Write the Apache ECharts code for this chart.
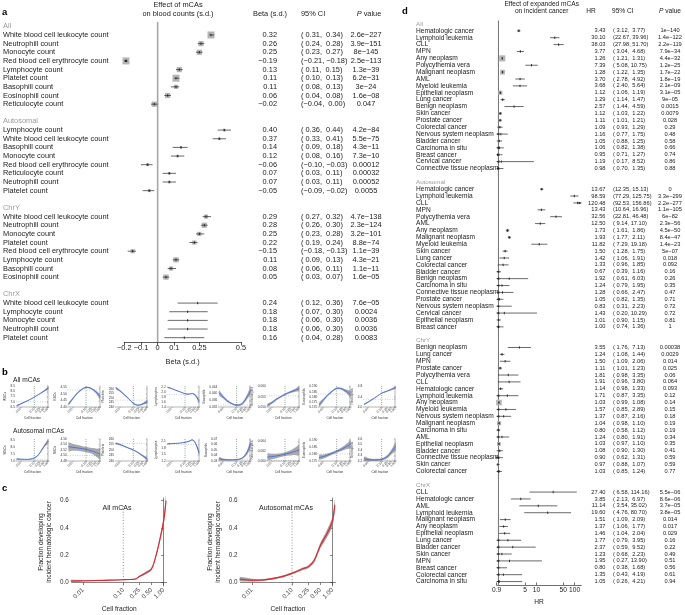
<!DOCTYPE html>
<html><head><meta charset="utf-8">
<script src="https://cdn.jsdelivr.net/npm/echarts@6/dist/echarts.min.js"></script>
<style>html,body{margin:0;padding:0;background:#fff}#c{width:685px;height:615px}</style>
</head><body><div id="c"></div><script>
const FONT = '"Liberation Sans", Arial, Helvetica, sans-serif';
const INK = '#222';

// ---------------- Panel a: effect of mCAs on blood counts ----------------
const aAll = [
 ['White blood cell leukocyte count', 0.32, 0.31, 0.34, '2.6e−227'],
 ['Neutrophill count', 0.26, 0.24, 0.28, '3.9e−151'],
 ['Monocyte count', 0.25, 0.23, 0.27, '8e−145'],
 ['Red blood cell erythrocyte count', -0.19, -0.21, -0.18, '2.5e−113'],
 ['Lymphocyte count', 0.13, 0.11, 0.15, '1.3e−39'],
 ['Platelet count', 0.11, 0.10, 0.13, '6.2e−31'],
 ['Basophill count', 0.11, 0.08, 0.13, '3e−24'],
 ['Eosinophill count', 0.06, 0.04, 0.08, '1.6e−08'],
 ['Reticulocyte count', -0.02, -0.04, 0.00, '0.047']
];
const aAutosomal = [
 ['Lymphocyte count', 0.40, 0.36, 0.44, '4.2e−84'],
 ['White blood cell leukocyte count', 0.37, 0.33, 0.41, '5.5e−75'],
 ['Basophill count', 0.14, 0.09, 0.18, '4.3e−11'],
 ['Monocyte count', 0.12, 0.08, 0.16, '7.3e−10'],
 ['Red blood cell erythrocyte count', -0.06, -0.10, -0.03, '0.00012'],
 ['Reticulocyte count', 0.07, 0.03, 0.11, '0.00032'],
 ['Neutrophill count', 0.07, 0.03, 0.11, '0.00052'],
 ['Platelet count', -0.05, -0.09, -0.02, '0.0055']
];
const aChrY = [
 ['White blood cell leukocyte count', 0.29, 0.27, 0.32, '4.7e−138'],
 ['Neutrophill count', 0.28, 0.26, 0.30, '2.3e−124'],
 ['Monocyte count', 0.25, 0.23, 0.28, '3.2e−101'],
 ['Platelet count', 0.22, 0.19, 0.24, '8.8e−74'],
 ['Red blood cell erythrocyte count', -0.15, -0.18, -0.13, '1.1e−39'],
 ['Lymphocyte count', 0.11, 0.09, 0.13, '4.3e−21'],
 ['Basophill count', 0.08, 0.06, 0.11, '1.1e−11'],
 ['Eosinophill count', 0.05, 0.03, 0.07, '1.6e−05']
];
const aChrX = [
 ['White blood cell leukocyte count', 0.24, 0.12, 0.36, '7.6e−05'],
 ['Lymphocyte count', 0.18, 0.07, 0.30, '0.0024'],
 ['Monocyte count', 0.18, 0.06, 0.30, '0.0036'],
 ['Neutrophill count', 0.18, 0.06, 0.30, '0.0036'],
 ['Platelet count', 0.16, 0.04, 0.28, '0.0083']
];
const aTicks = [-0.2, -0.1, 0, 0.1, 0.25, 0.5];

// ---------------- Panel d: expanded mCAs and incident cancer ----------------
const dAll = [
 ['Hematologic cancer', 3.43, 3.12, 3.77, '1e−140'],
 ['Lymphoid leukemia', 30.10, 22.67, 39.96, '1.4e−122'],
 ['CLL', 38.03, 27.98, 51.70, '2.2e−119'],
 ['MPN', 3.77, 3.04, 4.68, '7.9e−34'],
 ['Any neoplasm', 1.26, 1.21, 1.31, '4.4e−32'],
 ['Polycythemia vera', 7.39, 5.08, 10.75, '1.2e−25'],
 ['Malignant neoplasm', 1.28, 1.22, 1.35, '1.7e−22'],
 ['AML', 3.70, 2.78, 4.92, '1.8e−19'],
 ['Myeloid leukemia', 3.68, 2.40, 5.64, '2.1e−09'],
 ['Epithelial neoplasm', 1.12, 1.06, 1.19, '3.1e−05'],
 ['Lung cancer', 1.29, 1.14, 1.47, '9e−05'],
 ['Benign neoplasm', 2.57, 1.44, 4.59, '0.0015'],
 ['Skin cancer', 1.12, 1.03, 1.22, '0.0079'],
 ['Prostate cancer', 1.11, 1.01, 1.21, '0.028'],
 ['Colorectal cancer', 1.09, 0.93, 1.29, '0.29'],
 ['Nervous system neoplasm', 1.16, 0.77, 1.75, '0.48'],
 ['Bladder cancer', 1.05, 0.88, 1.25, '0.58'],
 ['Carcinoma in situ', 1.06, 0.82, 1.38, '0.66'],
 ['Breast cancer', 0.95, 0.71, 1.27, '0.74'],
 ['Cervical cancer', 1.19, 0.17, 8.52, '0.86'],
 ['Connective tissue neoplasm', 0.98, 0.70, 1.35, '0.88']
];
const dAutosomal = [
 ['Hematologic cancer', 13.67, 12.35, 15.13, '0'],
 ['Lymphoid leukemia', 98.59, 77.29, 125.75, '3.3e−299'],
 ['CLL', 120.48, 92.53, 156.86, '2.2e−277'],
 ['MPN', 13.43, 10.64, 16.96, '1.1e−105'],
 ['Polycythemia vera', 32.56, 22.81, 46.48, '6e−82'],
 ['AML', 12.50, 9.14, 17.10, '2.3e−56'],
 ['Any neoplasm', 1.73, 1.61, 1.86, '4.5e−50'],
 ['Malignant neoplasm', 1.93, 1.77, 2.11, '8.4e−47'],
 ['Myeloid leukemia', 11.82, 7.29, 19.18, '1.4e−23'],
 ['Skin cancer', 1.50, 1.28, 1.75, '5e−07'],
 ['Lung cancer', 1.42, 1.06, 1.91, '0.018'],
 ['Colorectal cancer', 1.33, 0.96, 1.85, '0.092'],
 ['Bladder cancer', 0.67, 0.39, 1.16, '0.16'],
 ['Benign neoplasm', 1.92, 0.61, 6.03, '0.26'],
 ['Carcinoma in situ', 1.24, 0.79, 1.95, '0.35'],
 ['Connective tissue neoplasm', 1.28, 0.66, 2.47, '0.47'],
 ['Prostate cancer', 1.05, 0.82, 1.35, '0.71'],
 ['Nervous system neoplasm', 0.83, 0.31, 2.23, '0.72'],
 ['Cervical cancer', 1.43, 0.20, 10.29, '0.72'],
 ['Epithelial neoplasm', 1.01, 0.90, 1.15, '0.81'],
 ['Breast cancer', 1.00, 0.74, 1.36, '1']
];
const dChrY = [
 ['Benign neoplasm', 3.55, 1.76, 7.13, '0.00038'],
 ['Lung cancer', 1.24, 1.08, 1.44, '0.0029'],
 ['MPN', 1.50, 1.09, 2.06, '0.014'],
 ['Prostate cancer', 1.11, 1.01, 1.23, '0.025'],
 ['Polycythemia vera', 1.81, 0.98, 3.35, '0.06'],
 ['CLL', 1.91, 0.96, 3.80, '0.064'],
 ['Hematologic cancer', 1.14, 0.98, 1.33, '0.093'],
 ['Lymphoid leukemia', 1.71, 0.87, 3.35, '0.12'],
 ['Any neoplasm', 1.03, 0.99, 1.08, '0.14'],
 ['Myeloid leukemia', 1.57, 0.85, 2.89, '0.15'],
 ['Nervous system neoplasm', 1.37, 0.87, 2.16, '0.18'],
 ['Malignant neoplasm', 1.04, 0.98, 1.10, '0.19'],
 ['Carcinoma in situ', 0.80, 0.58, 1.12, '0.19'],
 ['AML', 1.24, 0.80, 1.91, '0.34'],
 ['Epithelial neoplasm', 1.03, 0.97, 1.10, '0.35'],
 ['Bladder cancer', 1.08, 0.90, 1.30, '0.41'],
 ['Connective tissue neoplasm', 0.90, 0.62, 1.31, '0.59'],
 ['Skin cancer', 0.97, 0.88, 1.07, '0.59'],
 ['Colorectal cancer', 1.03, 0.85, 1.24, '0.77']
];
const dChrX = [
 ['CLL', 27.40, 6.58, 114.16, '5.5e−06'],
 ['Hematologic cancer', 3.85, 2.13, 6.97, '8.6e−06'],
 ['AML', 11.14, 3.54, 35.02, '3.7e−05'],
 ['Lymphoid leukemia', 19.60, 4.76, 80.70, '3.8e−05'],
 ['Malignant neoplasm', 1.51, 1.09, 2.09, '0.014'],
 ['Any neoplasm', 1.37, 1.06, 1.77, '0.017'],
 ['Epithelial neoplasm', 1.46, 1.04, 2.04, '0.029'],
 ['Lung cancer', 1.77, 0.79, 3.95, '0.16'],
 ['Bladder cancer', 2.37, 0.59, 9.52, '0.22'],
 ['Skin cancer', 1.23, 0.68, 2.23, '0.49'],
 ['MPN', 1.95, 0.27, 13.90, '0.51'],
 ['Breast cancer', 0.80, 0.38, 1.68, '0.56'],
 ['Colorectal cancer', 1.35, 0.43, 4.19, '0.61'],
 ['Carcinoma in situ', 1.05, 0.26, 4.21, '0.94']
];
const dTicks = [0.9, 5, 10, 50, 100];
const dRange = [0.9, 150];

// ---------------- Panel b: blood counts vs cell fraction ----------------
const bFraction = [0.005, 0.01, 0.02, 0.05, 0.1, 0.2, 0.35, 0.6, 1.1];
const bCounts = ['WBCs', 'RBCs', 'Platelets', 'Lymphocytes', 'Basophils', 'Reticulocytes', 'Eosinophils', 'Neutrophils'];
// each: [fitted values], [half-width of the band]
const bAllWBCs = [[6.62, 6.8, 6.98, 7.22, 7.45, 7.68, 7.88, 8.08, 8.32], [0.06, 0.05, 0.04, 0.035, 0.035, 0.045, 0.06, 0.09, 0.16]];
const bAllRBCs = [[4.42, 4.46, 4.50, 4.535, 4.55, 4.545, 4.53, 4.51, 4.475], [0.01, 0.008, 0.006, 0.005, 0.005, 0.006, 0.008, 0.012, 0.02]];
const bAllPlatelets = [[261, 258, 254, 248.5, 244, 242, 242.5, 244, 246], [1.2, 1, 0.8, 0.6, 0.6, 0.7, 0.9, 1.3, 2]];
const bAllLymphocytes = [[2.2, 2.15, 2.08, 2.0, 1.94, 1.92, 1.95, 1.86, 1.62], [0.02, 0.018, 0.015, 0.012, 0.012, 0.015, 0.02, 0.04, 0.09]];
const bAllBasophils = [[0.0405, 0.038, 0.0357, 0.0338, 0.0331, 0.0335, 0.0352, 0.0382, 0.042], [0.0015, 0.001, 0.0007, 0.0005, 0.0005, 0.0006, 0.0009, 0.0014, 0.0022]];
const bAllReticulocytes = [[0.0508, 0.052, 0.0535, 0.0551, 0.0562, 0.0571, 0.0577, 0.0583, 0.0590], [0.0007, 0.0006, 0.0005, 0.0004, 0.0004, 0.0005, 0.0006, 0.0008, 0.0012]];
const bAllEosinophils = [[0.172, 0.1765, 0.181, 0.1857, 0.1882, 0.188, 0.1865, 0.1848, 0.1822], [0.002, 0.0015, 0.001, 0.0008, 0.0008, 0.001, 0.0014, 0.002, 0.003]];
const bAllNeutrophils = [[4.1, 4.19, 4.29, 4.43, 4.54, 4.6, 4.65, 4.7, 4.76], [0.03, 0.025, 0.02, 0.015, 0.015, 0.02, 0.025, 0.035, 0.05]];
const bAutWBCs = [[7.15, 7.13, 7.12, 7.14, 7.22, 7.45, 7.8, 8.15, 8.45], [0.05, 0.04, 0.03, 0.03, 0.04, 0.05, 0.07, 0.1, 0.15]];
const bAutRBCs = [[4.532, 4.53, 4.528, 4.525, 4.522, 4.518, 4.515, 4.51, 4.505], [0.016, 0.013, 0.011, 0.01, 0.01, 0.01, 0.012, 0.015, 0.02]];
const bAutPlatelets = [[256, 255, 253.5, 251.5, 250, 248, 246, 244, 241.5], [0.8, 0.7, 0.6, 0.5, 0.5, 0.6, 0.8, 1.1, 1.5]];
const bAutLymphocytes = [[1.98, 1.99, 2.0, 2.02, 2.05, 2.1, 2.16, 2.0, 1.55], [0.03, 0.02, 0.015, 0.015, 0.015, 0.02, 0.03, 0.05, 0.1]];
const bAutBasophils = [[0.034, 0.0325, 0.032, 0.032, 0.0325, 0.034, 0.038, 0.046, 0.062], [0.003, 0.002, 0.0015, 0.001, 0.001, 0.0012, 0.002, 0.004, 0.007]];
const bAutReticulocytes = [[0.0608, 0.0609, 0.061, 0.0612, 0.0614, 0.0616, 0.0618, 0.062, 0.0623], [0.0007, 0.0006, 0.0005, 0.0004, 0.0004, 0.0005, 0.0006, 0.0008, 0.0011]];
const bAutEosinophils = [[0.1775, 0.178, 0.179, 0.1805, 0.1818, 0.183, 0.1842, 0.1855, 0.187], [0.0018, 0.0015, 0.0012, 0.001, 0.001, 0.0012, 0.0015, 0.002, 0.003]];
const bAutNeutrophils = [[4.24, 4.225, 4.22, 4.22, 4.23, 4.26, 4.31, 4.38, 4.47], [0.04, 0.03, 0.02, 0.02, 0.02, 0.025, 0.035, 0.05, 0.08]];
const bAllRef = [7.0, 4.53, 247.5, 1.9, 0.0332, 0.0555, 0.1826, 4.3];
const bAutRef = [7.1, 4.50, 256, 1.95, 0.033, 0.0601, 0.180, 4.22];
// y-axis tick layout per panel: [min, max, step]
const bAllTicks = [[6.5, 8.5, 0.5], [4.40, 4.56, 0.05], [240, 263, 5], [1.4, 2.25, 0.2], [0.032, 0.0445, 0.004], [0.050, 0.0603, 0.005], [0.170, 0.1905, 0.005], [4.0, 4.82, 0.4]];
const bAutTicks = [[7.0, 8.6, 0.5], [4.48, 4.56, 0.02], [240, 260, 5], [1.2, 2.2, 0.3], [0.03, 0.07, 0.01], [0.060, 0.0645, 0.002], [0.175, 0.1905, 0.005], [4.2, 4.6, 0.1]];
const bXTicks = [0.01, 0.1, 0.25, 0.5, 1.0];

// ---------------- Panel c: fraction developing hematologic cancer ----------------
const cFraction = [0.005, 0.01, 0.02, 0.05, 0.1, 0.15, 0.2, 0.25, 0.35, 0.5, 0.65, 0.8, 1.0, 1.15];
const cAllFit = [0.012, 0.013, 0.015, 0.018, 0.021, 0.023, 0.026, 0.045, 0.068, 0.1, 0.2, 0.31, 0.45, 0.6];
const cAllBand = [0.008, 0.005, 0.004, 0.003, 0.003, 0.003, 0.004, 0.006, 0.008, 0.01, 0.015, 0.02, 0.03, 0.04];
const cAutFit = [0.025, 0.018, 0.02, 0.04, 0.068, 0.09, 0.105, 0.115, 0.16, 0.27, 0.33, 0.38, 0.45, 0.57];
const cAutBand = [0.015, 0.01, 0.006, 0.006, 0.007, 0.008, 0.009, 0.01, 0.015, 0.02, 0.025, 0.03, 0.035, 0.04];
const cTicks = [0.01, 0.1, 0.25, 0.5, 1.0];
const cYTicks = [0, 0.2, 0.4, 0.6];

// ================= helpers =================
function buildSlots(sections) {
  const slots = [], rows = [];
  sections.forEach(([title, list], i) => {
    if (i > 0) slots.push({kind: 'blank', text: ''});
    slots.push({kind: 'head', text: title});
    list.forEach(r => {
      rows.push({slot: slots.length, name: r[0], est: r[1], lo: r[2], hi: r[3], p: r[4]});
      slots.push({kind: 'row', text: r[0]});
    });
  });
  return {slots, rows};
}
const fmtEst = v => (v < 0 ? '−' : '') + Math.abs(v).toFixed(2);
const padCI = v => (v >= 0 && v < 10) ? ' ' + fmtEst(v) : fmtEst(v);
const ciText = (lo, hi) => '(' + padCI(lo) + ', ' + padCI(hi) + ')';
const L10 = Math.log10;
const ident = v => v;
function st(text, o) {
  const s = Object.assign({text, fill: INK, fontSize: 7.4, fontFamily: FONT, align: 'left', verticalAlign: 'middle', textAlign: 'left', textVerticalAlign: 'middle'}, o || {});
  if (o && o.align) s.textAlign = o.align;
  return s;
}
function T(x, y, text, o) { return {type: 'text', x, y, silent: true, style: st(text, o)}; }

function forestRender(rows, tf, k, maxBox) {
  return function (params, api) {
    const r = rows[params.dataIndex];
    const cs = params.coordSys;
    const x0 = cs.x, x1 = cs.x + cs.width;
    const pe = api.coord([tf(r.est), r.slot]);
    const y = pe[1], xe = pe[0];
    const xl = api.coord([tf(r.lo), r.slot])[0];
    const xh = api.coord([tf(r.hi), r.slot])[0];
    const kids = [];
    const inside = xe >= x0 - 0.01 && xe <= x1 + 0.01;
    const side = Math.min(maxBox, k / (tf(r.hi) - tf(r.lo)));
    if (inside) kids.push({type: 'rect', shape: {x: xe - side / 2, y: y - side / 2, width: side, height: side}, style: {fill: '#b5b5b5'}});
    const cl = Math.max(xl, x0), ch = Math.min(xh, x1);
    kids.push({type: 'line', shape: {x1: cl, y1: y, x2: ch, y2: y}, style: {stroke: '#2a2a2a', lineWidth: 0.7}});
    if (xl < x0 - 0.5) kids.push({type: 'polygon', shape: {points: [[x0 - 0.3, y], [x0 + 2.6, y - 1.3], [x0 + 2.6, y + 1.3]]}, style: {fill: '#2a2a2a'}});
    if (xh > x1 + 0.5) kids.push({type: 'polygon', shape: {points: [[x1 + 0.3, y], [x1 - 2.6, y - 1.3], [x1 - 2.6, y + 1.3]]}, style: {fill: '#2a2a2a'}});
    if (inside) kids.push({type: 'line', shape: {x1: xe, y1: y - 1.2, x2: xe, y2: y + 1.2}, style: {stroke: '#111', lineWidth: 0.8}});
    return {type: 'group', children: kids};
  };
}
function columnsRender(rows, tf, cols, fs) {
  return function (params, api) {
    const r = rows[params.dataIndex];
    const y = api.coord([tf(r.est), r.slot])[1];
    const base = {fill: INK, fontSize: fs, fontFamily: FONT, verticalAlign: 'middle', textVerticalAlign: 'middle'};
    return {type: 'group', children: [
      {type: 'text', style: Object.assign({}, base, {x: cols[0], y, text: fmtEst(r.est), align: 'right', textAlign: 'right'})},
      {type: 'text', style: Object.assign({}, base, {x: cols[1], y, text: ciText(r.lo, r.hi), align: 'left', textAlign: 'left'})},
      {type: 'text', style: Object.assign({}, base, {x: cols[2], y, text: r.p, align: 'center', textAlign: 'center'})}
    ]};
  };
}
function refLineRender(xVal, color, width) {
  return function (params, api) {
    const cs = params.coordSys;
    const x = api.coord([xVal, 0])[0];
    return {type: 'line', shape: {x1: x, y1: cs.y, x2: x, y2: cs.y + cs.height}, style: {stroke: color, lineWidth: width}};
  };
}
function bandRender(xs, fit, lo, hi, s) {
  return function (params, api) {
    if (params.dataIndex !== 0) return null;
    const cs = params.coordSys;
    const up = xs.map((x, i) => api.coord([x, hi[i]]));
    const dn = xs.map((x, i) => api.coord([x, lo[i]])).reverse();
    const mid = xs.map((x, i) => api.coord([x, fit[i]]));
    const pts = up.concat(dn);
    let a = [Infinity, Infinity], b = [-Infinity, -Infinity];
    pts.forEach(p => { a = [Math.min(a[0], p[0]), Math.min(a[1], p[1])]; b = [Math.max(b[0], p[0]), Math.max(b[1], p[1])]; });
    const kids = [{type: 'polygon', shape: {points: pts, smooth: 0.35, smoothConstraint: [a, b]}, style: {fill: s.band, opacity: s.bandOpacity}}];
    if (s.refY != null) {
      const yy = api.coord([xs[0], s.refY])[1];
      kids.push({type: 'line', shape: {x1: cs.x, y1: yy, x2: cs.x + cs.width, y2: yy}, style: {stroke: s.hColor, lineWidth: s.hWidth, lineDash: s.hDash}});
    }
    const vx = api.coord([s.refX, fit[0]])[0];
    const vTop = s.vTop != null ? api.coord([s.refX, s.vTop])[1] : cs.y;
    kids.push({type: 'line', shape: {x1: vx, y1: vTop, x2: vx, y2: cs.y + cs.height}, style: {stroke: s.vColor, lineWidth: s.vWidth, lineDash: s.vDash}});
    kids.push({type: 'polyline', shape: {points: mid, smooth: 0.35}, style: {stroke: s.line, lineWidth: s.lineWidth, fill: null}});
    return {type: 'group', children: kids};
  };
}

// ================= build option =================
const grids = [], xAxes = [], yAxes = [], series = [], graphics = [];
function addGrid(g) { grids.push(Object.assign({outerBoundsMode: 'none', containLabel: false}, g)); return grids.length - 1; }

// ----- panel a -----
const A = buildSlots([['All', aAll], ['Autosomal', aAutosomal], ['ChrY', aChrY], ['ChrX', aChrX]]);
{
  const gi = addGrid({left: 124.3, top: 22, width: 116.7, height: 320});
  xAxes.push({gridIndex: gi, type: 'value', min: -0.2, max: 0.5, splitLine: {show: false},
    axisLine: {show: true, lineStyle: {color: '#333', width: 0.8}},
    axisTick: {show: true, customValues: aTicks, length: 3.5, lineStyle: {color: '#333', width: 0.8}},
    axisLabel: {show: true, customValues: aTicks, margin: 2.5, fontSize: 7.4, fontFamily: FONT, color: INK,
      formatter: v => (v < 0 ? '−' + String(Math.abs(v)) : String(v))},
    name: 'Beta (s.d.)', nameLocation: 'middle', nameGap: 16, nameTextStyle: {fontSize: 7.4, fontFamily: FONT, color: INK}});
  yAxes.push({gridIndex: gi, type: 'category', inverse: true, data: A.slots.map((s, i) => String(i)),
    axisLine: {show: false}, axisTick: {show: false}, splitLine: {show: false},
    axisLabel: {show: true, interval: 0, align: 'left', margin: 121.3, fontSize: 7.4, fontFamily: FONT, color: INK,
      formatter: v => { const s = A.slots[+v]; return s.kind === 'head' ? '{h|' + s.text + '}' : s.text; },
      rich: {h: {color: '#9a9a9a', fontSize: 7.4, fontFamily: FONT}}}});
  const ai = xAxes.length - 1;
  const data = A.rows.map(r => [r.est, r.slot]);
  series.push({type: 'custom', xAxisIndex: ai, yAxisIndex: ai, data: [[0, 0]], encode: {x: 0, y: 1}, renderItem: refLineRender(0, '#a8a8a8', 1.6), silent: true, z: 1});
  series.push({type: 'custom', xAxisIndex: ai, yAxisIndex: ai, data, encode: {x: 0, y: 1}, renderItem: forestRender(A.rows, ident, 0.21, 7), silent: true, z: 3});
  series.push({type: 'custom', xAxisIndex: ai, yAxisIndex: ai, data, encode: {x: 0, y: 1}, renderItem: columnsRender(A.rows, ident, [277, 301, 366], 7.4), silent: true, z: 3});
}

// ----- panel d -----
const D = buildSlots([['All', dAll], ['Autosomal', dAutosomal], ['ChrY', dChrY], ['ChrX', dChrX]]);
{
  const gi = addGrid({left: 496.7, top: 20.5, width: 84.6, height: 564.5});
  const tv = dTicks.map(L10);
  xAxes.push({gridIndex: gi, type: 'value', min: L10(dRange[0]), max: L10(dRange[1]), splitLine: {show: false},
    axisLine: {show: true, lineStyle: {color: '#333', width: 0.7}},
    axisTick: {show: true, inside: true, customValues: tv, length: 2.5, lineStyle: {color: '#333', width: 0.7}},
    axisLabel: {show: true, customValues: tv, margin: 1.8, fontSize: 6.6, fontFamily: FONT, color: INK,
      formatter: v => { const r = Math.pow(10, v); return r < 1 ? r.toFixed(1) : String(Math.round(r)); }},
    name: 'HR', nameLocation: 'middle', nameGap: 11, nameTextStyle: {fontSize: 6.6, fontFamily: FONT, color: INK}});
  yAxes.push({gridIndex: gi, type: 'category', inverse: true, data: D.slots.map((s, i) => String(i)),
    axisLine: {show: false}, axisTick: {show: false}, splitLine: {show: false},
    axisLabel: {show: true, interval: 0, align: 'left', margin: 80.7, fontSize: 6.6, fontFamily: FONT, color: INK,
      formatter: v => { const s = D.slots[+v]; return s.kind === 'head' ? '{h|' + s.text + '}' : s.text; },
      rich: {h: {color: '#9a9a9a', fontSize: 6.2, fontFamily: FONT}}}});
  const ai = xAxes.length - 1;
  const data = D.rows.map(r => [L10(r.est), r.slot]);
  series.push({type: 'custom', xAxisIndex: ai, yAxisIndex: ai, data: [[0, 0]], encode: {x: 0, y: 1}, renderItem: refLineRender(0, '#333', 0.7), silent: true, z: 1});
  series.push({type: 'custom', xAxisIndex: ai, yAxisIndex: ai, data, encode: {x: 0, y: 1}, renderItem: forestRender(D.rows, L10, 0.21, 6.5), silent: true, z: 3});
  series.push({type: 'custom', xAxisIndex: ai, yAxisIndex: ai, data, encode: {x: 0, y: 1}, renderItem: columnsRender(D.rows, L10, [605.5, 613, 670], 5.7), silent: true, z: 3});
}

// ----- panel b -----
const bAllSets = [bAllWBCs, bAllRBCs, bAllPlatelets, bAllLymphocytes, bAllBasophils, bAllReticulocytes, bAllEosinophils, bAllNeutrophils];
const bAutSets = [bAutWBCs, bAutRBCs, bAutPlatelets, bAutLymphocytes, bAutBasophils, bAutReticulocytes, bAutEosinophils, bAutNeutrophils];
const bLeft = [16, 67.7, 115, 166.7, 218.3, 266.7, 318.3, 363.3];
const bTop = [386, 439], bHeight = [21, 22];
const bx = bFraction.map(L10);
const bxt = bXTicks.map(L10);
[[bAllSets, bAllRef, bAllTicks], [bAutSets, bAutRef, bAutTicks]].forEach(([sets, refs, ticks], row) => {
  sets.forEach((set, col) => {
    const gi = addGrid({left: bLeft[col], top: bTop[row], width: 33, height: bHeight[row]});
    const [mn, mx, step] = ticks[col];
    const dec = Math.max(0, Math.ceil(-Math.log10(step) - 1e-9));
    const yv = []; for (let v = mn; v <= mx + 1e-12; v += step) yv.push(+v.toFixed(6));
    const maxLen = Math.max(...yv.map(v => v.toFixed(dec).length));
    xAxes.push({gridIndex: gi, type: 'value', min: -2.35, max: 0.08, splitLine: {show: false},
      axisLine: {show: true, lineStyle: {color: '#444', width: 0.4}},
      axisTick: {show: true, customValues: bxt, length: 1, lineStyle: {color: '#444', width: 0.4}},
      axisLabel: {show: true, customValues: bxt, rotate: 45, margin: 1, fontSize: 3.2, fontFamily: FONT, color: '#333',
        formatter: v => Math.pow(10, v).toFixed(2)},
      name: 'Cell fraction', nameLocation: 'middle', nameGap: 9.5, nameTextStyle: {fontSize: 3.2, fontFamily: FONT, color: '#333'}});
    yAxes.push({gridIndex: gi, type: 'value', min: mn, max: mx, splitLine: {show: false},
      axisLine: {show: true, lineStyle: {color: '#444', width: 0.4}},
      axisTick: {show: true, customValues: yv, length: 1, lineStyle: {color: '#444', width: 0.4}},
      axisLabel: {show: true, customValues: yv, margin: 1, fontSize: 3.2, fontFamily: FONT, color: '#333',
        formatter: v => (+v).toFixed(dec)},
      name: bCounts[col], nameLocation: 'middle', nameRotate: 90, nameGap: 3.6 + maxLen * 1.75,
      nameTextStyle: {fontSize: 3.2, fontFamily: FONT, color: '#333'}});
    const ai = xAxes.length - 1;
    const fit = set[0], hw = set[1];
    const lo = fit.map((f, i) => f - hw[i]), hi = fit.map((f, i) => f + hw[i]);
    series.push({type: 'custom', xAxisIndex: ai, yAxisIndex: ai, data: [[bx[0], fit[0]]], encode: {x: 0, y: 1}, silent: true,
      renderItem: bandRender(bx, fit, lo, hi, {band: '#8c8c8c', bandOpacity: 0.75, line: '#3a66f0', lineWidth: 0.8,
        refY: refs[col], hColor: '#666', hWidth: 0.5, hDash: [0.6, 1.8], refX: L10(0.1), vColor: '#1f4a2c', vWidth: 0.7, vDash: [0.7, 1.6]})});
  });
});

// ----- panel c -----
const cx = cFraction.map(L10);
const cxt = cTicks.map(L10);
[[cAllFit, cAllBand, 71.7], [cAutFit, cAutBand, 240.5]].forEach(([fit, band, left]) => {
  const gi = addGrid({left, top: 498, width: 95, height: 88});
  xAxes.push({gridIndex: gi, type: 'value', min: -2.28, max: 0.077, splitLine: {show: false},
    axisLine: {show: true, lineStyle: {color: '#333', width: 0.6}},
    axisTick: {show: true, customValues: cxt, length: 2.5, lineStyle: {color: '#333', width: 0.6}},
    axisLabel: {show: true, customValues: cxt, rotate: 45, margin: 3, fontSize: 6.3, fontFamily: FONT, color: '#333',
      formatter: v => Math.pow(10, v).toFixed(2)},
    name: 'Cell fraction', nameLocation: 'middle', nameGap: 19.5, nameTextStyle: {fontSize: 6.6, fontFamily: FONT, color: INK}});
  yAxes.push({gridIndex: gi, type: 'value', min: -0.025, max: 0.62, splitLine: {show: false},
    axisLine: {show: true, lineStyle: {color: '#333', width: 0.6}},
    axisTick: {show: true, customValues: cYTicks, length: 2.5, lineStyle: {color: '#333', width: 0.6}},
    axisLabel: {show: true, customValues: cYTicks, margin: 3, fontSize: 6.3, fontFamily: FONT, color: '#333',
      formatter: v => (+v).toFixed(1)},
    name: 'Fraction developing\nincident hematologic cancer', nameLocation: 'middle', nameRotate: 90, nameGap: 18,
    nameTextStyle: {fontSize: 6.6, fontFamily: FONT, color: INK, lineHeight: 8.5}});
  const ai = xAxes.length - 1;
  const lo = fit.map((f, i) => f - band[i]), hi = fit.map((f, i) => f + band[i]);
  series.push({type: 'custom', xAxisIndex: ai, yAxisIndex: ai, data: [[cx[0], fit[0]]], encode: {x: 0, y: 1}, silent: true,
    renderItem: bandRender(cx, fit, lo, hi, {band: '#8a8a8a', bandOpacity: 0.8, line: '#e8232b', lineWidth: 1.1,
      refY: null, refX: L10(0.1), vTop: 0.56, vColor: '#555', vWidth: 0.8, vDash: [0.8, 2]})});
});

// ----- free texts -----
const B = {fontWeight: 'bold', fontSize: 9.5, fill: '#000'};
graphics.push(
  T(2, 12.5, 'a', B),
  T(178, 4.5, 'Effect of mCAs', {align: 'center'}),
  T(178, 13.5, 'on blood counts (s.d.)', {align: 'center'}),
  T(270, 13.5, 'Beta (s.d.)', {align: 'center'}),
  T(301, 13.5, '95% CI'),
  T(369, 13.5, '{i|P} value', {align: 'center', rich: {i: {fontStyle: 'italic', fontSize: 7.4, fontFamily: FONT, fill: INK}}}),
  T(402, 11.5, 'd', B),
  T(541.7, 4, 'Effect of expanded mCAs', {align: 'center', fontSize: 6.6}),
  T(541.7, 11.5, 'on incident cancer', {align: 'center', fontSize: 6.6}),
  T(591, 11.5, 'HR', {align: 'center', fontSize: 6.6}),
  T(612, 11.5, '95% CI', {fontSize: 6.6}),
  T(670, 11.5, '{i|P} value', {align: 'center', fontSize: 6.6, rich: {i: {fontStyle: 'italic', fontSize: 6.6, fontFamily: FONT, fill: INK}}}),
  T(2, 372.5, 'b', B),
  T(13, 380.5, 'All mCAs', {fontSize: 6.6}),
  T(13, 431.5, 'Autosomal mCAs', {fontSize: 6.6}),
  T(2, 488, 'c', B),
  T(117, 508, 'All mCAs', {align: 'center', fontSize: 7}),
  T(286, 508, 'Autosomal mCAs', {align: 'center', fontSize: 7})
);

const chart = echarts.init(document.getElementById('c'));
chart.setOption({
  animation: false,
  backgroundColor: '#fff',
  textStyle: {fontFamily: FONT},
  grid: grids, xAxis: xAxes, yAxis: yAxes, series,
  graphic: {elements: graphics}
});
</script></body></html>
